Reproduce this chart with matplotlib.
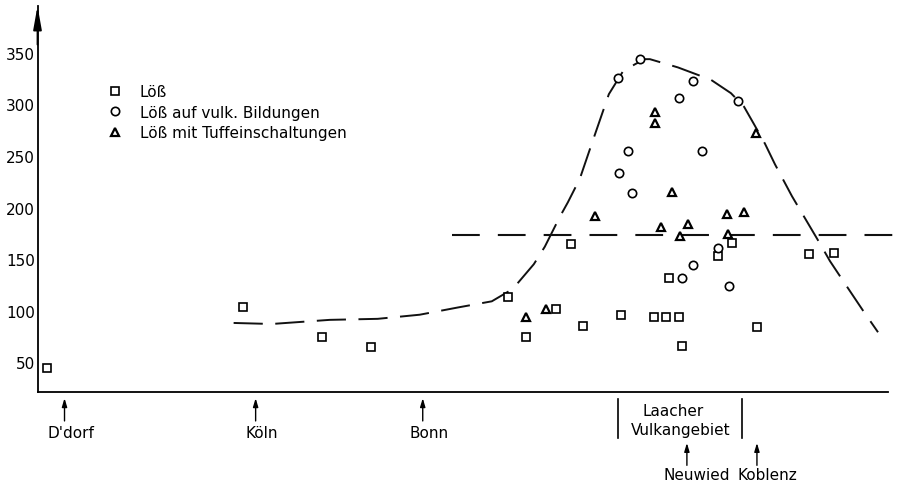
import matplotlib.pyplot as plt

plt.rcParams['font.family'] = ['DejaVu Sans']
plt.rcParams['lines.scale_dashes'] = False

# positions along the profile (arbitrary distance units) and values
loess_x = [9, 205, 284, 333, 470, 488, 518, 533, 545, 583, 616, 628, 641, 644, 631, 680, 694, 719, 771, 796]
loess_y = [44, 103, 74, 65, 113, 74, 102, 165, 85, 96, 94, 94, 94, 66, 132, 153, 166, 84, 155, 156]

vulk_x = [602, 580, 655, 641, 700, 590, 664, 581, 594, 680, 655, 644, 691]
vulk_y = [344, 326, 323, 306, 303, 255, 255, 234, 214, 161, 144, 132, 124]

tuff_x = [617, 617, 718, 634, 557, 689, 706, 623, 650, 642, 690, 488, 508]
tuff_y = [293, 282, 272, 215, 192, 194, 196, 181, 184, 172, 174, 94, 102]

curve_x = [196, 234, 292, 340, 382, 420, 454, 475, 496, 507, 522, 530, 542, 555, 571, 585, 597,
           607, 612, 640, 673, 693, 706, 716, 727, 737, 754, 768, 782, 792, 805, 825, 840]
curve_y = [88, 87, 91, 92, 96, 103, 109, 121, 145, 162, 191, 205, 228, 265, 310, 332, 339,
           344, 344, 336, 324, 311, 298, 281, 262, 242, 211, 188, 165, 148, 129, 100, 79]

mean_x = [414, 870]
mean_y = [173, 173]

yticks = [50, 100, 150, 200, 250, 300, 350]

towns = ["D'dorf", 'Köln', 'Bonn']
town_x = [27, 218, 385]
towns2 = ['Neuwied', 'Koblenz']
town2_x = [649, 719]
laach_x = [580, 704]

fig = plt.figure(figsize=(9.08, 4.85), dpi=100)
ax = fig.add_axes([0.0413, 0.1897, 0.9367, 0.7959])

ax.plot(curve_x, curve_y, color='#111111', lw=1.4, dashes=(21, 9))
ax.plot(mean_x, mean_y, color='#111111', lw=1.5, dashes=(20, 13), clip_on=False)

ax.plot(loess_x, loess_y, 's', ms=5.5, mfc='white', mec='black', mew=1.2, ls='none', label='Löß')
ax.plot(vulk_x, vulk_y, 'o', ms=6, mfc='white', mec='black', mew=1.2, ls='none', label='Löß auf vulk. Bildungen')
ax.plot(tuff_x, tuff_y, '^', ms=5.5, mfc='white', mec='black', mew=1.6, ls='none', label='Löß mit Tuffeinschaltungen')

ax.set_xlim(0, 850)
ax.set_ylim(21, 395.6)
ax.set_yticks(yticks)
ax.set_xticks([])
ax.tick_params(axis='y', length=0, pad=2, labelsize=11)
for s in ['top', 'right']:
    ax.spines[s].set_visible(False)
for s in ['left', 'bottom']:
    ax.spines[s].set_linewidth(1.3)

# arrow head on the y axis
ax.annotate('', xy=(0, 1), xytext=(0, 0.9), xycoords='axes fraction',
            arrowprops=dict(arrowstyle='-|>,head_length=1.4,head_width=0.25', lw=1.3,
                            color='black', shrinkA=0, shrinkB=0))

ax.legend(loc='upper left', bbox_to_anchor=(0.077, 0.818), frameon=False, fontsize=11,
          handlelength=0.6, handletextpad=1.3, labelspacing=0.38, borderpad=0)

# places along the Rhine
tr = ax.get_xaxis_transform()
for name, x in zip(towns, town_x):
    ax.annotate('', xy=(x, -0.016), xytext=(x, -0.075), xycoords=tr,
                arrowprops=dict(arrowstyle='-|>,head_length=0.5,head_width=0.15', lw=1,
                                color='black', shrinkA=0, shrinkB=0))
    ax.text(x + 6, -0.104, name, transform=tr, ha='center', va='center', fontsize=11)

for name, x in zip(towns2, town2_x):
    ax.annotate('', xy=(x, -0.132), xytext=(x, -0.19), xycoords=tr,
                arrowprops=dict(arrowstyle='-|>,head_length=0.5,head_width=0.15', lw=1,
                                color='black', shrinkA=0, shrinkB=0))
    ax.text(x + 10, -0.215, name, transform=tr, ha='center', va='center', fontsize=11)

for x in laach_x:
    ax.plot([x, x], [-0.018, -0.119], color='black', lw=1.2, transform=tr, clip_on=False)
ax.text(635, -0.049, 'Laacher', transform=tr, ha='center', va='center', fontsize=11)
ax.text(643, -0.098, 'Vulkangebiet', transform=tr, ha='center', va='center', fontsize=11)

fig.savefig('out.png', dpi=100)
